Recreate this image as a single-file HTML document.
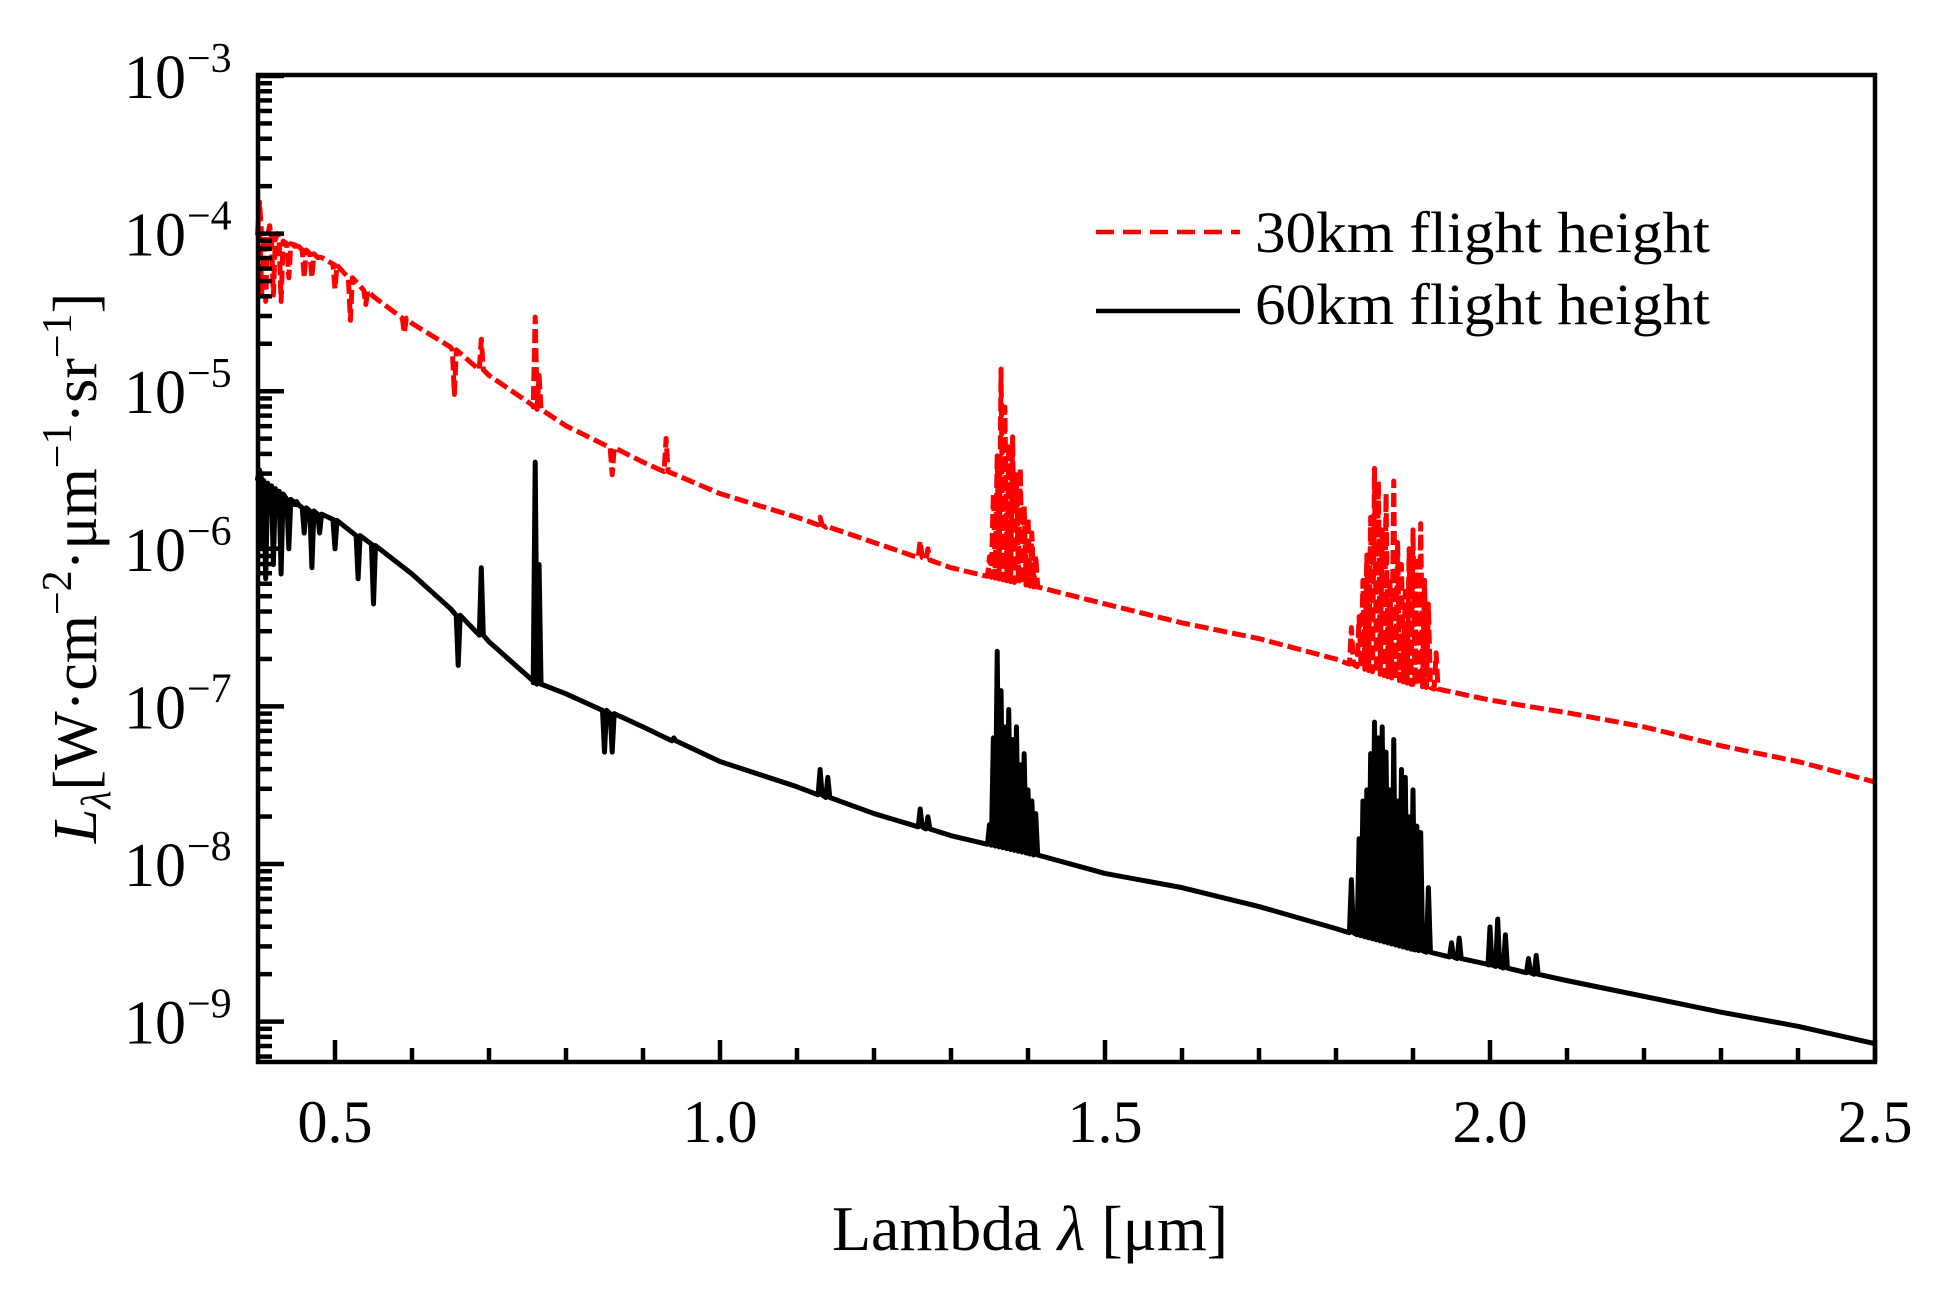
<!DOCTYPE html>
<html><head><meta charset="utf-8"><style>
html,body{margin:0;padding:0;background:#fff}
svg text{font-family:"Liberation Serif",serif;fill:#000}
</style></head><body>
<svg id="chart" width="1935" height="1288" viewBox="0 0 1935 1288" xmlns="http://www.w3.org/2000/svg">
<g id="series"></g>
<rect x="258" y="75" width="1617" height="987" fill="none" stroke="#000" stroke-width="4.5"/>
<g id="ticks"></g>
<g id="labels"></g>
<text x="1030" y="1250" font-size="64" text-anchor="middle">Lambda <tspan font-style="italic">λ</tspan> [μm]</text>
<text transform="translate(96,568) rotate(-90)" font-size="62" text-anchor="middle"><tspan font-style="italic">L</tspan><tspan font-style="italic" font-size="42" dy="14">λ</tspan><tspan dy="-14">[W·cm</tspan><tspan font-size="42" dy="-25">−2</tspan><tspan dy="25">·μm</tspan><tspan font-size="42" dy="-25">−1</tspan><tspan dy="25">·sr</tspan><tspan font-size="42" dy="-25">−1</tspan><tspan dy="25">]</tspan></text>
<g>
<line x1="1096" y1="232" x2="1240" y2="232" stroke="#f00" stroke-width="4.5" stroke-dasharray="18 9"/>
<text x="1255" y="252" font-size="58" textLength="455" lengthAdjust="spacingAndGlyphs">30km flight height</text>
<line x1="1096" y1="311" x2="1240" y2="311" stroke="#000" stroke-width="4.5"/>
<text x="1255" y="324" font-size="58" textLength="455" lengthAdjust="spacingAndGlyphs">60km flight height</text>
</g>
</svg>
<script>
// data (log10 of radiance)
const baseWl = [0.4,0.45,0.5,0.55,0.6,0.65,0.7,0.76,0.8,0.9,1.0,1.1,1.2,1.3,1.4,1.5,1.6,1.7,1.8,1.9,2.0,2.1,2.2,2.3,2.4,2.5];
const red30 = [-4.0,-4.08,-4.2,-4.40,-4.57,-4.72,-4.90,-5.1,-5.22,-5.45,-5.65,-5.80,-5.96,-6.12,-6.23,-6.35,-6.47,-6.57,-6.70,-6.86,-6.96,-7.04,-7.13,-7.25,-7.35,-7.48];
const black60 = [-5.55,-5.72,-5.82,-5.98,-6.16,-6.38,-6.59,-6.85,-6.92,-7.13,-7.35,-7.51,-7.68,-7.82,-7.93,-8.06,-8.15,-8.27,-8.41,-8.54,-8.64,-8.74,-8.84,-8.94,-9.03,-9.14];
const redSpikeWl = [0.402,0.405,0.41,0.415,0.42,0.425,0.43,0.44,0.45,0.46,0.47,0.48,0.5,0.52,0.54,0.59,0.655,0.69,0.76,0.765,0.86,0.93,1.13,1.14,1.26,1.27,1.35,1.355,1.36,1.365,1.37,1.375,1.38,1.385,1.39,1.395,1.40,1.405,1.41,1.82,1.83,1.835,1.84,1.845,1.85,1.855,1.86,1.865,1.87,1.875,1.88,1.885,1.89,1.895,1.90,1.905,1.91,1.915,1.92,1.93];
const redSpikeVal = [-3.8,-4.39,-4.43,-3.95,-4.39,-4.0,-4.43,-4.28,-4.05,-4.28,-4.28,-4.15,-4.35,-4.55,-4.45,-4.63,-5.02,-4.67,-4.53,-4.9,-5.53,-5.3,-5.80,-5.85,-5.95,-6.0,-6.05,-5.65,-5.41,-4.86,-5.10,-5.33,-5.29,-5.53,-5.49,-5.73,-5.80,-5.9,-6.04,-6.5,-6.43,-6.2,-6.04,-5.8,-5.49,-5.57,-5.88,-5.65,-6.19,-5.57,-5.96,-6.1,-6.27,-6.0,-5.88,-6.08,-5.84,-6.2,-6.35,-6.66];
const blackSpikeWl = [0.402,0.405,0.41,0.415,0.42,0.425,0.43,0.44,0.45,0.46,0.47,0.48,0.5,0.53,0.55,0.66,0.69,0.76,0.765,0.85,0.86,0.94,1.13,1.14,1.26,1.27,1.35,1.355,1.36,1.365,1.37,1.375,1.38,1.385,1.39,1.395,1.40,1.405,1.41,1.82,1.83,1.835,1.84,1.845,1.85,1.855,1.86,1.865,1.87,1.875,1.88,1.885,1.89,1.895,1.90,1.905,1.91,1.92,1.95,1.96,2.0,2.01,2.02,2.05,2.06];
const blackSpikeVal = [-5.5,-6.0,-6.19,-5.6,-6.1,-5.65,-6.16,-6.0,-5.7,-5.9,-6.12,-5.9,-6.0,-6.19,-6.35,-6.74,-6.12,-5.45,-6.1,-7.29,-7.29,-7.2,-7.40,-7.45,-7.65,-7.7,-7.75,-7.2,-6.65,-6.90,-7.13,-7.02,-7.21,-7.13,-7.37,-7.3,-7.53,-7.6,-7.68,-8.1,-7.84,-7.6,-7.53,-7.3,-7.10,-7.2,-7.13,-7.29,-7.53,-7.21,-7.60,-7.4,-7.45,-7.7,-7.53,-7.76,-7.8,-8.15,-8.5,-8.47,-8.4,-8.35,-8.45,-8.6,-8.58];
const xTicks = [0.5,1.0,1.5,2.0,2.5];
const xTickLabels = ["0.5","1.0","1.5","2.0","2.5"];
const yDecades = [-3,-4,-5,-6,-7,-8,-9];

const X0=258,X1=1875,Y0=75,Y1=1062;
const xmin=0.4,xmax=2.5;
const sx=w=>X0+(w-xmin)/(xmax-xmin)*(X1-X0);
const yTop=76, dec=157.6;
const sy=l=>yTop+(-3-l)*dec;
const NS="http://www.w3.org/2000/svg";
function mk(tag,attrs,parent){const e=document.createElementNS(NS,tag);for(const k in attrs)e.setAttribute(k,attrs[k]);parent.appendChild(e);return e;}
function baseAt(arr,w){for(let i=0;i<baseWl.length-1;i++){if(w<=baseWl[i+1]){const t=(w-baseWl[i])/(baseWl[i+1]-baseWl[i]);return arr[i]+t*(arr[i+1]-arr[i]);}}return arr[arr.length-1];}
function buildPath(base,sw,sv){
  const pts=[];
  baseWl.forEach((w,i)=>pts.push([w,base[i],0]));
  sw.forEach((w,i)=>pts.push([w,sv[i],1]));
  pts.sort((a,b)=>a[0]-b[0]);
  let d="";
  pts.forEach((p,i)=>{
    const bx=sx(p[0]);
    if(p[2]){const b=baseAt(base,p[0]);d+=(i?"L":"M")+(bx-2)+","+sy(b)+"L"+bx+","+sy(p[1])+"L"+(bx+2)+","+sy(b);}
    else d+=(i?"L":"M")+bx+","+sy(p[1]);
  });
  return d;
}
const series=document.getElementById('series');
const pr=mk('path',{d:buildPath(red30,redSpikeWl,redSpikeVal),fill:'none',stroke:'#f00','stroke-width':5,'stroke-dasharray':'14 5','stroke-linejoin':'round'},series);


const pb=mk('path',{d:buildPath(black60,blackSpikeWl,blackSpikeVal),fill:'none',stroke:'#000','stroke-width':5,'stroke-linejoin':'round'},series);



const ticks=document.getElementById('ticks'),labels=document.getElementById('labels');
for(let k=5;k<=25;k++){const w=k/10;const x=sx(w);const major=(k%5===0);
  const t=mk('line',{x1:x,y1:Y1,x2:x,y2:Y1-(major?22:14),stroke:'#000','stroke-width':4.5},ticks);
  
  }
xTicks.forEach((w,i)=>{const t=mk('text',{x:sx(w),y:1142,'font-size':60,'text-anchor':'middle'},labels);t.textContent=xTickLabels[i];
  
  });
yDecades.forEach(dc=>{
  const y=sy(dc);
  if(y<=Y1){const t=mk('line',{x1:X0,y1:y,x2:X0+26,y2:y,stroke:'#000','stroke-width':4.5},ticks);
    
    
    const g=mk('text',{x:186,y:y+22,'font-size':62,'text-anchor':'end'},labels);
    
    
    g.textContent='10';
    const s=mk('text',{x:187,y:y-4,'font-size':42},labels);
    
    
    s.textContent='−'+(-dc);}
  for(let m=2;m<=9;m++){const yy=sy(dc-1+Math.log10(m));if(yy>Y0+2&&yy<Y1-2){const t=mk('line',{x1:X0,y1:yy,x2:X0+14,y2:yy,stroke:'#000','stroke-width':4.5},ticks);
    
    }}
});
</script>
</body></html>
